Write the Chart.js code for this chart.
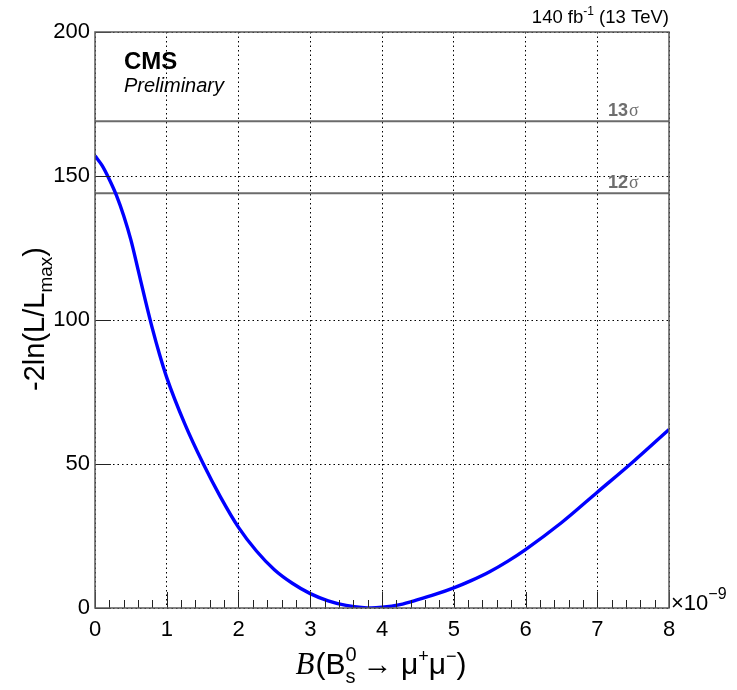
<!DOCTYPE html>
<html>
<head>
<meta charset="utf-8">
<script src="https://cdn.jsdelivr.net/npm/chart.js@4.4.1/dist/chart.umd.min.js"></script>
<style>
  html, body { margin: 0; padding: 0; background: #fff; }
  #wrap { width: 737px; height: 690px; }
</style>
</head>
<body>
<div id="wrap"><canvas id="c" width="737" height="690"></canvas></div>
<script>
// Branching fraction scan (units of 1e-9) and the profile likelihood curve
const branchingFraction = [0, 0.1, 0.2, 0.3, 0.4, 0.5, 0.6, 0.7, 0.8, 0.9, 1.0,
  1.25, 1.5, 1.75, 2.0, 2.25, 2.5, 2.75, 3.0, 3.25, 3.5, 3.75, 3.85, 4.0, 4.25,
  4.5, 4.75, 5.0, 5.25, 5.5, 5.75, 6.0, 6.5, 7.0, 7.5, 8.0];
const deltaNLL = [157, 153.6, 148.8, 143.2, 136.2, 127.8, 117.5, 107, 97, 88, 80,
  64, 50.5, 38.5, 28, 19.8, 13.3, 8.6, 5.0, 2.5, 0.9, 0.1, 0, 0.25, 1.2,
  2.9, 4.8, 7.0, 9.6, 12.6, 16.2, 20.3, 29.6, 40.2, 50.8, 62];

// Significance reference levels (-2 ln L values)
const sigmaLabels = ["13\u03c3", "12\u03c3"];
const sigmaLevels = [169, 144];

const xTicks = [0, 1, 2, 3, 4, 5, 6, 7, 8];
const yTicks = [0, 50, 100, 150, 200];

const FONT = "'Liberation Sans', Arial, Helvetica, sans-serif";
const SERIF = "'Liberation Serif', 'Times New Roman', serif";

const curve = branchingFraction.map((x, i) => ({ x: x, y: deltaNLL[i] }));
const sigmaSets = sigmaLevels.map((lvl, i) => ({
  label: sigmaLabels[i],
  data: [{ x: 0, y: lvl }, { x: 8, y: lvl }],
  borderColor: '#6b6b6b',
  borderWidth: 2,
  pointRadius: 0,
  order: 2
}));

// Draw a sequence of text runs (normal / sub / sup) starting at (x, y)
function drawRuns(ctx, runs, x, y) {
  let cx = x;
  for (const r of runs) {
    ctx.font = r.font;
    ctx.fillText(r.t, cx, y + (r.dy || 0));
    cx += ctx.measureText(r.t).width + (r.after || 0);
  }
  return cx - x;
}
function runsWidth(ctx, runs) {
  let w = 0;
  for (const r of runs) { ctx.font = r.font; w += ctx.measureText(r.t).width + (r.after || 0); }
  return w;
}

const rootStyle = {
  id: 'rootStyle',
  afterDatasetsDraw(chart) {
    const ctx = chart.ctx;
    const a = chart.chartArea;
    const xs = chart.scales.x, ys = chart.scales.y;
    ctx.save();
    // inward tick marks
    ctx.strokeStyle = '#222';
    ctx.lineWidth = 1;
    ctx.beginPath();
    for (let v = 0; v <= 8.0001; v += 0.2) {
      const px = Math.round(xs.getPixelForValue(v)) + 0.5;
      const major = Math.abs(v - Math.round(v)) < 1e-6;
      const len = major ? 16 : 8;
      ctx.moveTo(px, a.bottom);
      ctx.lineTo(px, a.bottom - len);
    }
    for (const v of yTicks) {
      const py = Math.round(ys.getPixelForValue(v)) + 0.5;
      ctx.moveTo(a.left, py);
      ctx.lineTo(a.left + 16, py);
    }
    ctx.stroke();
    // frame
    ctx.strokeStyle = '#5a5a5a';
    ctx.lineWidth = 1.5;
    ctx.strokeRect(a.left, a.top, a.right - a.left, a.bottom - a.top);

    // sigma labels
    ctx.fillStyle = '#6e6e6e';
    ctx.textBaseline = 'alphabetic';
    ctx.textAlign = 'left';
    sigmaLevels.forEach((lvl, i) => {
      const py = ys.getPixelForValue(lvl) - 5;
      const num = sigmaLabels[i].slice(0, -1);
      ctx.font = 'bold 18px ' + FONT;
      ctx.fillText(num, 608, py);
      const w = ctx.measureText(num).width;
      ctx.font = '18px ' + SERIF;
      ctx.fillText('\u03c3', 608 + w + 1, py);
    });

    ctx.fillStyle = '#000';
    // CMS label
    ctx.font = 'bold 24px ' + FONT;
    ctx.fillText('CMS', 124, 69);
    ctx.font = 'italic 20px ' + FONT;
    ctx.fillText('Preliminary', 124, 92);

    // luminosity label
    const lumi = [
      { t: '140 fb', font: '18.5px ' + FONT },
      { t: '-1', font: '12px ' + FONT, dy: -8 },
      { t: ' (13 TeV)', font: '18.5px ' + FONT }
    ];
    drawRuns(ctx, lumi, 669 - runsWidth(ctx, lumi), 23);

    // exponent label
    const expo = [
      { t: '\u00d710', font: '22px ' + FONT },
      { t: '\u22129', font: '16px ' + FONT, dy: -11 }
    ];
    drawRuns(ctx, expo, 671, 610);

    // x-axis title
    const xt = [
      { t: 'B', font: 'italic 31px ' + SERIF, after: 1 },
      { t: '(B', font: '30px ' + FONT },
      { t: 's', font: '20px ' + FONT, dy: 9, after: -10 },
      { t: '0', font: '20px ' + FONT, dy: -13, after: 6 },
      { t: '\u2192 \u03bc', font: '30px ' + FONT },
      { t: '+', font: '18px ' + FONT, dy: -12 },
      { t: '\u03bc', font: '30px ' + FONT },
      { t: '\u2212', font: '18px ' + FONT, dy: -12 },
      { t: ')', font: '30px ' + FONT }
    ];
    drawRuns(ctx, xt, 381 - runsWidth(ctx, xt) / 2, 674);

    // y-axis title
    ctx.save();
    ctx.translate(44, 319);
    ctx.rotate(-Math.PI / 2);
    const yt = [
      { t: '-2ln(L/L', font: '29px ' + FONT },
      { t: 'max', font: '19px ' + FONT, dy: 8 },
      { t: ')', font: '29px ' + FONT }
    ];
    drawRuns(ctx, yt, -runsWidth(ctx, yt) / 2, 0);
    ctx.restore();

    ctx.restore();
  }
};

new Chart(document.getElementById('c'), {
  type: 'line',
  data: {
    datasets: [
      {
        label: 'scan',
        data: curve,
        borderColor: '#0000ff',
        borderWidth: 3.4,
        pointRadius: 0,
        cubicInterpolationMode: 'monotone',
        order: 1
      },
      ...sigmaSets
    ]
  },
  options: {
    responsive: false,
    animation: false,
    layout: { padding: { left: 0, top: 32, right: 68, bottom: 0 } },
    plugins: { legend: { display: false }, tooltip: { enabled: false } },
    scales: {
      x: {
        type: 'linear',
        min: 0, max: 8,
        afterFit(s) { s.height = 82; },
        afterBuildTicks(s) { s.ticks = xTicks.map(v => ({ value: v })); },
        ticks: { color: '#000', font: { family: FONT, size: 22 }, padding: 9 },
        grid: { color: '#000', lineWidth: 1, drawTicks: false },
        border: { display: false, dash: [1.5, 3] }
      },
      y: {
        type: 'linear',
        min: 0, max: 200,
        afterFit(s) { s.width = 95; },
        afterBuildTicks(s) { s.ticks = yTicks.map(v => ({ value: v })); },
        ticks: { color: '#000', font: { family: FONT, size: 22 }, padding: 5 },
        grid: { color: '#000', lineWidth: 1, drawTicks: false },
        border: { display: false, dash: [1.5, 3] }
      }
    }
  },
  plugins: [rootStyle]
});
</script>
</body>
</html>
